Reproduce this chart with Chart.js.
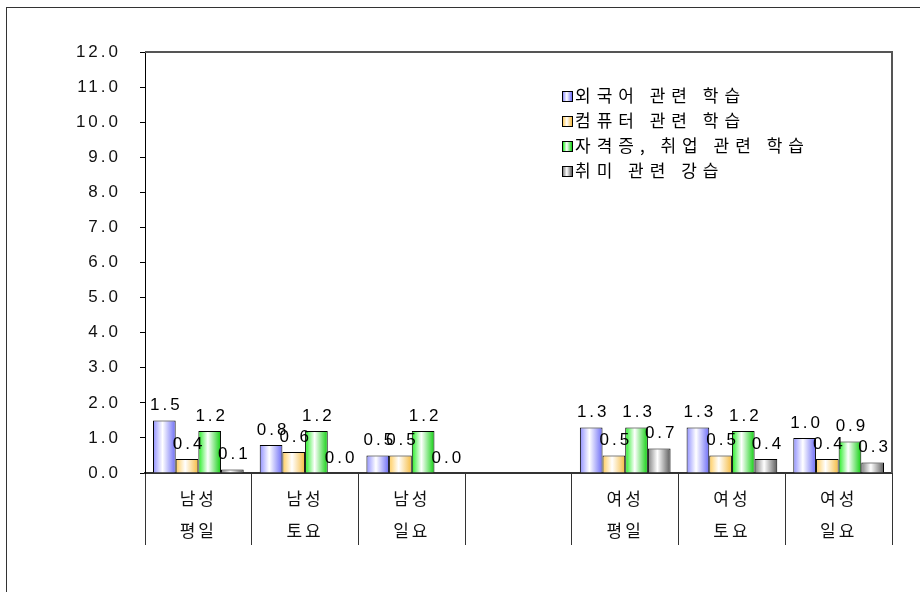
<!DOCTYPE html>
<html>
<head>
<meta charset="utf-8">
<script src="https://cdn.jsdelivr.net/npm/chart.js@4.4.1/dist/chart.umd.min.js"></script>
<style>
  body { margin: 0; background: #fff; }
  #wrap { position: relative; width: 920px; height: 592px; overflow: hidden; }
  #frame { position: absolute; left: 6px; top: 7px; width: 1000px; height: 700px;
           border-left: 1px solid #333; border-top: 1px solid #333; }
  #legend { position: absolute; left: 562px; top: 82px; font-family: "Noto Sans CJK KR", sans-serif;
            font-size: 17px; letter-spacing: 6px; color: #000; }
  #legend div { height: 25px; line-height: 25px; white-space: nowrap; }
  #legend span { display: inline-block; width: 9px; height: 9px; border: 1px solid #000;
                 margin-right: 2px; vertical-align: 0px; }
</style>
</head>
<body>
<div id="wrap">
  <div id="frame"></div>
  <canvas id="myChart" width="920" height="592"></canvas>
  <div id="legend"></div>
</div>
<script>
// data **********************
const labels = [['남성', '평일'], ['남성', '토요'], ['남성', '일요'], '', ['여성', '평일'], ['여성', '토요'], ['여성', '일요']];
const seriesNames = ['외국어 관련 학습', '컴퓨터 관련 학습', '자격증, 취업 관련 학습', '취미 관련 강습'];
const foreignLang = [1.5, 0.8, 0.5, null, 1.3, 1.3, 1.0];
const computer    = [0.4, 0.6, 0.5, null, 0.5, 0.5, 0.4];
const license     = [1.2, 1.2, 1.2, null, 1.3, 1.2, 0.9];
const hobby       = [0.1, 0.0, 0.0, null, 0.7, 0.4, 0.3];
const yMin = 0, yMax = 12, yStep = 1;
// ****************************

const edgeColors = [['#9090ff', '#6c6cf6'], ['#ffcc5c', '#f5bb40'], ['#22ee22', '#10d010'], ['#808080', '#5a5a5a']];

function barFill(ctx) {
  const c = edgeColors[ctx.datasetIndex];
  const el = ctx.element;
  if (!el || !el.width) return c[0];
  const g = ctx.chart.ctx.createLinearGradient(el.x - el.width / 2, 0, el.x + el.width / 2, 0);
  g.addColorStop(0, c[0]);
  g.addColorStop(0.42, '#ffffff');
  g.addColorStop(1, c[1]);
  return g;
}

const allSeries = [foreignLang, computer, license, hobby];
const datasets = allSeries.map(function(arr, i) {
  return {
    label: seriesNames[i],
    data: arr,
    backgroundColor: barFill,
    borderColor: '#000',
    borderWidth: 1,
    barPercentage: 1,
    categoryPercentage: 0.85
  };
});

const spacing = {
  id: 'spacing',
  beforeDraw(chart) { chart.ctx.letterSpacing = '3px'; }
};

const valueLabels = {
  id: 'valueLabels',
  afterDatasetsDraw(chart) {
    const ctx = chart.ctx;
    ctx.save();
    ctx.letterSpacing = '3px';
    ctx.font = '17px "Liberation Sans", Arial, sans-serif';
    ctx.fillStyle = '#000';
    ctx.textAlign = 'center';
    ctx.textBaseline = 'middle';
    chart.data.datasets.forEach(function(ds, i) {
      chart.getDatasetMeta(i).data.forEach(function(el, j) {
        const v = ds.data[j];
        if (v === null) return;
        ctx.fillText(v.toFixed(1), el.x + 2, el.y - 15);
      });
    });
    ctx.restore();
  }
};

const plotBox = {
  id: 'plotBox',
  afterDraw(chart) {
    const a = chart.chartArea;
    const ctx = chart.ctx;
    ctx.save();
    ctx.strokeStyle = '#555';
    ctx.lineWidth = 2;
    ctx.beginPath();
    ctx.moveTo(a.left, a.top);
    ctx.lineTo(a.right, a.top);
    ctx.lineTo(a.right, a.bottom);
    ctx.stroke();
    ctx.restore();
  }
};

const chart = new Chart('myChart', {
  type: 'bar',
  data: { labels: labels, datasets: datasets },
  plugins: [spacing, valueLabels, plotBox],
  options: {
    responsive: false,
    animation: false,
    layout: { padding: { top: 52, right: 28, left: 0, bottom: 0 } },
    plugins: { legend: { display: false }, tooltip: { enabled: false } },
    scales: {
      x: {
        grid: { offset: true, drawOnChartArea: false, tickLength: 72, color: '#333', lineWidth: 1 },
        border: { display: true, color: '#333', width: 2 },
        ticks: {
          padding: -62,
          color: '#111',
          font: { family: '"Noto Sans CJK KR", sans-serif', size: 17, lineHeight: 1.88 },
          maxRotation: 0, autoSkip: false
        },
        afterFit(s) { s.height = 119; s.paddingLeft = 0; s.paddingRight = 0; }
      },
      y: {
        min: yMin, max: yMax,
        grid: { drawOnChartArea: false, tickLength: 5, color: '#000' },
        border: { display: true, color: '#000', width: 1 },
        ticks: {
          stepSize: yStep,
          padding: 19,
          color: '#111',
          font: { family: '"Liberation Sans", Arial, sans-serif', size: 17 },
          callback: function(v) { return Number(v).toFixed(1); }
        },
        afterFit(s) { s.width = 145; s.paddingTop = 0; s.paddingBottom = 0; }
      }
    }
  }
});
// second pass so the gradients can use the bar positions
chart.update('none');

// legend
const lg = document.getElementById('legend');
seriesNames.forEach(function(name, i) {
  const c = edgeColors[i];
  const row = document.createElement('div');
  const sw = document.createElement('span');
  sw.style.background = 'linear-gradient(to right, ' + c[0] + ', #fff 42%, ' + c[1] + ')';
  row.appendChild(sw);
  row.appendChild(document.createTextNode(name));
  lg.appendChild(row);
});
</script>
</body>
</html>
